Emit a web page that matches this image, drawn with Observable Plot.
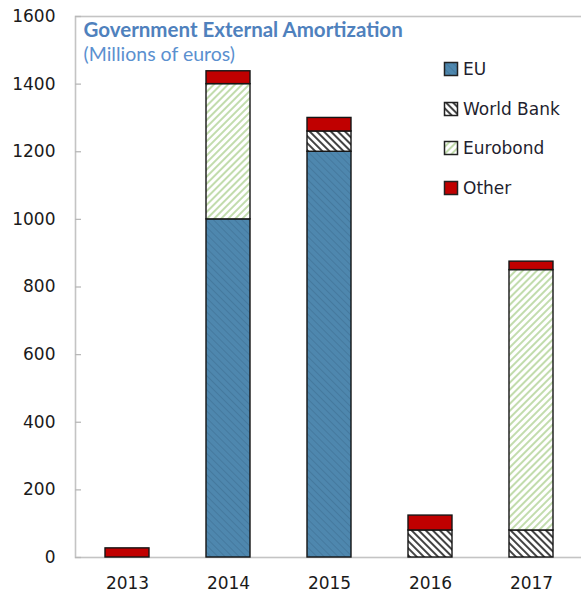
<!DOCTYPE html>
<html><head><meta charset="utf-8">
<script src="https://cdn.jsdelivr.net/npm/d3@7"></script>
<script src="https://cdn.jsdelivr.net/npm/@observablehq/plot@0.6"></script>
<style>
body{margin:0;background:#fff}
#wrap{position:relative;width:581px;height:597px;overflow:hidden}
.lg{position:absolute;left:443px;height:20px;display:flex;align-items:center;font:17px "DejaVu Sans",sans-serif;color:#1f1f2f;white-space:nowrap}
.lg svg{margin-right:4px}
</style></head><body><div id="wrap"></div>
<script>
const years = ["2013", "2014", "2015", "2016", "2017"];
const series = ["EU", "World Bank", "Eurobond", "Other"];
const eu = [0, 1000, 1200, 0, 0];
const worldBank = [0, 0, 60, 80, 80];
const eurobond = [0, 400, 0, 0, 770];
const other = [27, 38, 40, 44, 25];
const yTicks = [0, 200, 400, 600, 800, 1000, 1200, 1400, 1600];
const title = "Government External Amortization";
const subtitle = "(Millions of euros)";
const fills = ["url(#p-eu)", "url(#p-wb)", "url(#p-eb)", "#c00000"];

const values = {"EU": eu, "World Bank": worldBank, "Eurobond": eurobond, "Other": other};
const rows = [];
years.forEach((year, i) => {
  series.forEach(s => {
    if (values[s][i] > 0) rows.push({year, series: s, value: values[s][i]});
  });
});

const chart = Plot.plot({
  width: 581, height: 597,
  marginLeft: 75, marginRight: -2, marginTop: 16, marginBottom: 40,
  style: {fontFamily: "DejaVu Sans, sans-serif", fontSize: "17px", color: "#1a1a1a", background: "#fff"},
  x: {domain: years, paddingInner: 0.567, paddingOuter: 0.2835, label: null},
  y: {domain: [0, 1600], label: null},
  color: {domain: series, range: fills},
  marks: [
    Plot.frame({stroke: "#c4c4c4", strokeWidth: 1.6}),
    Plot.axisY(yTicks, {tickSize: 6, dx: 6, tickFormat: () => "", stroke: "#b8b8b8", strokeWidth: 1.3}),
    Plot.barY(rows, {x: "year", y: "value", fill: "series", stroke: "#151515", strokeWidth: 1.4}),
    Plot.axisY(yTicks, {tickSize: 0, tickPadding: 20, tickFormat: d => String(d), fontSize: 17}),
    Plot.axisX({tickSize: 0, tickPadding: 19, fontSize: 17}),
    Plot.text([title], {frameAnchor: "top-left", dx: 8, dy: 6, lineAnchor: "top", textAnchor: "start",
      fontFamily: "Lato", fontWeight: "bold", fontSize: 20.5, fill: "#4f81bd"}),
    Plot.text([subtitle], {frameAnchor: "top-left", dx: 8, dy: 31, lineAnchor: "top", textAnchor: "start",
      fontFamily: "Lato", fontSize: 19.5, fill: "#5b90cf"})
  ]
});

const defs = `
<pattern id="p-eu" width="5" height="5" patternUnits="userSpaceOnUse" patternTransform="rotate(-45)">
  <rect width="5" height="5" fill="#4e87ae"/><line x1="0.5" y1="0" x2="0.5" y2="5" stroke="#45799e" stroke-width="1"/></pattern>
<pattern id="p-wb" width="5" height="5" patternUnits="userSpaceOnUse" patternTransform="rotate(-45)">
  <rect width="5" height="5" fill="#fff"/><line x1="1" y1="0" x2="1" y2="5" stroke="#222" stroke-width="1.7"/></pattern>
<pattern id="p-eb" width="5" height="5" patternUnits="userSpaceOnUse" patternTransform="rotate(45)">
  <rect width="5" height="5" fill="#fff"/><line x1="1" y1="0" x2="1" y2="5" stroke="#aed192" stroke-width="1.5"/></pattern>`;
d3.select(chart).insert("defs", ":first-child").html(defs);

const wrap = document.getElementById("wrap");
wrap.appendChild(chart);

series.forEach((s, i) => {
  const div = document.createElement("div");
  div.className = "lg";
  div.style.top = (69 + i * 39.7 - 10) + "px";
  div.innerHTML = `<svg width="16" height="16"><rect x="1.5" y="1.5" width="13" height="13" fill="${fills[i]}" stroke="#222" stroke-width="1.5"/></svg>${s}`;
  wrap.appendChild(div);
});
</script>
</body></html>
